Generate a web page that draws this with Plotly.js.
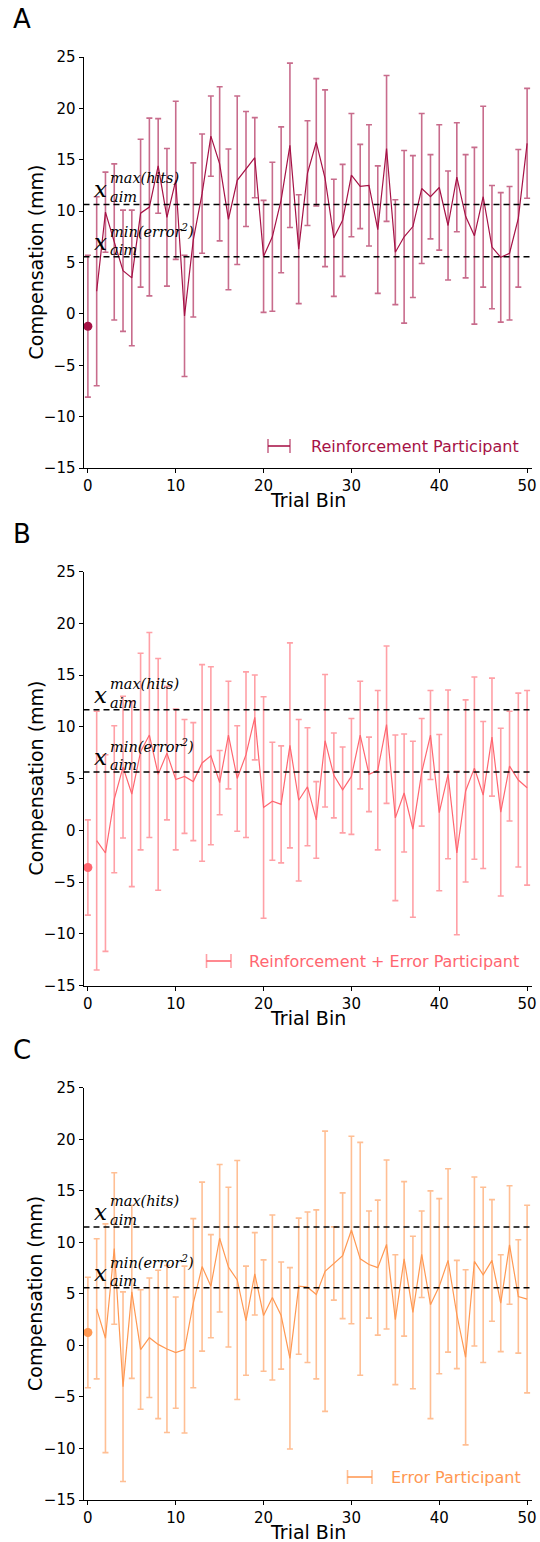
<!DOCTYPE html>
<html>
<head>
<meta charset="utf-8">
<script src="https://cdn.plot.ly/plotly-3.0.1.min.js"></script>
<style>html,body{margin:0;padding:0;background:#fff;}#chart{width:540px;height:1542px;}</style>
</head>
<body>
<div id="chart"></div>
<script>
// ---------- DATA ----------
const trialBins = Array.from({length: 50}, (_, i) => i + 1); // bins 1..50 (line)
const baselineBin = [0];

// Panel A: Reinforcement Participant
const reinfBaseline = [-1.2];
const reinfBaselineErr = [6.9];
const reinfMean = [2.2, 9.9, 7.0, 4.2, 3.5, 9.8, 10.4, 14.4, 9.4, 13.0,
  -0.2, 7.2, 11.7, 17.3, 14.6, 9.2, 13.0, 14.1, 15.2, 5.6,
  7.5, 11.1, 16.4, 6.3, 13.7, 16.7, 13.2, 7.4, 9.1, 13.5,
  12.4, 12.5, 8.2, 16.1, 6.0, 7.5, 8.5, 12.2, 11.4, 12.3,
  8.6, 13.3, 9.5, 7.6, 11.4, 6.5, 5.5, 5.9, 9.3, 16.6];
const reinfErr = [9.2, 3.9, 7.6, 5.9, 6.6, 7.2, 8.65, 4.6, 6.7, 7.7,
  5.9, 7.5, 5.8, 3.9, 7.5, 6.85, 8.2, 5.6, 3.9, 5.45,
  7.25, 7.1, 8.0, 5.3, 5.1, 6.2, 8.6, 5.7, 5.45, 6.0,
  4.1, 5.9, 6.2, 7.1, 5.1, 8.4, 6.9, 7.3, 4.1, 6.1,
  5.3, 5.3, 6.0, 8.6, 8.8, 6.0, 6.3, 6.5, 6.7, 5.35];
const reinfMaxHits = 10.65;
const reinfMinErr2 = 5.55;

// Panel B: Reinforcement + Error Participant
const bothBaseline = [-3.6];
const bothBaselineErr = [4.6];
const bothMean = [-1.0, -2.2, 3.0, 6.1, 3.5, 7.6, 9.2, 5.4, 7.45, 4.9,
  5.2, 4.7, 6.5, 7.2, 4.6, 9.2, 5.0, 7.3, 10.9, 2.2,
  2.8, 2.5, 8.2, 2.9, 4.2, 1.0, 8.65, 5.3, 3.9, 5.2,
  9.2, 5.4, 5.8, 10.2, 1.2, 3.6, 0.1, 5.6, 9.2, 1.7,
  5.4, -2.2, 3.8, 6.0, 3.4, 9.0, 1.75, 6.2, 4.85, 4.1];
const bothErr = [12.5, 9.5, 7.1, 6.85, 8.95, 9.5, 9.9, 11.2, 6.45, 6.8,
  5.5, 5.7, 9.5, 8.6, 3.1, 5.2, 5.1, 8.0, 4.1, 10.7,
  5.7, 5.65, 9.9, 7.8, 5.7, 3.7, 6.4, 4.1, 4.15, 5.6,
  5.2, 3.6, 7.7, 7.6, 8.0, 5.7, 8.5, 5.2, 4.3, 7.55,
  8.15, 7.9, 8.8, 8.8, 7.1, 5.7, 8.1, 5.3, 8.4, 9.4];
const bothMaxHits = 11.65;
const bothMinErr2 = 5.62;

// Panel C: Error Participant
const errBaseline = [1.25];
const errBaselineErr = [5.36];
const errMean = [3.55, 0.7, 9.4, -4.0, 5.2, -0.4, 0.75, 0.1, -0.35, -0.7,
  -0.4, 4.1, 7.65, 5.75, 10.4, 7.6, 6.35, 2.4, 6.95, 2.9,
  4.65, 2.9, -1.25, 5.75, 5.65, 4.95, 7.2, 7.95, 8.7, 11.2,
  8.4, 7.85, 7.55, 9.8, 2.5, 8.4, 3.2, 8.85, 3.95, 5.75,
  8.25, 3.0, -1.15, 8.15, 6.85, 8.25, 4.1, 9.75, 4.75, 4.5];
const errErr = [6.8, 11.1, 7.35, 9.2, 8.4, 5.8, 5.8, 7.2, 8.1, 5.4,
  8.1, 8.2, 8.2, 5.0, 7.15, 7.75, 11.6, 5.3, 4.0, 5.4,
  8.0, 5.2, 8.8, 6.6, 7.3, 8.2, 13.6, 3.55, 6.1, 9.1,
  11.3, 5.2, 6.55, 8.2, 6.3, 7.5, 7.4, 4.2, 11.05, 8.5,
  8.9, 5.25, 8.5, 8.2, 8.5, 5.9, 4.7, 5.75, 5.5, 9.1];
const errMaxHits = 11.5;
const errMinErr2 = 5.6;

const panelLetters = ['A', 'B', 'C'];
const seriesNames = ['Reinforcement Participant', 'Reinforcement + Error Participant', 'Error Participant'];
const xTitle = 'Trial Bin';
const yTitle = 'Compensation (mm)';
const xTicks = [0, 10, 20, 30, 40, 50];
const yTicks = [-15, -10, -5, 0, 5, 10, 15, 20, 25];

// ---------- STYLE ----------
const W = 540, H = 1542;
const colors = ['rgb(166,18,70)', 'rgb(255,102,112)', 'rgb(255,152,82)'];
const barColors = ['rgba(166,18,70,0.62)', 'rgba(255,102,112,0.62)', 'rgba(255,152,82,0.62)'];
const panelPx = [[57, 468], [571.5, 985.5], [1087.8, 1500]];
const xPx = [83.5, 531.5];
const legendPx = [
  {c1: 268, c2: 290, y: 446, tx: 309},
  {c1: 206.5, c2: 231, y: 961, tx: 246.5},
  {c1: 347.5, c2: 372, y: 1477, tx: 389}
];

const means = [reinfMean, bothMean, errMean];
const errs = [reinfErr, bothErr, errErr];
const bases = [reinfBaseline, bothBaseline, errBaseline];
const baseErrs = [reinfBaselineErr, bothBaselineErr, errBaselineErr];
const maxHits = [reinfMaxHits, bothMaxHits, errMaxHits];
const minErr2 = [reinfMinErr2, bothMinErr2, errMinErr2];

const traces = [];
const layout = {
  width: W, height: H,
  margin: {l: 0, r: 0, t: 0, b: 0},
  paper_bgcolor: '#fff', plot_bgcolor: '#fff',
  showlegend: false,
  font: {family: 'DejaVu Sans', color: '#000'},
  annotations: [], shapes: []
};

const py = p => 1 - p / H;
const px = p => p / W;

for (let i = 0; i < 3; i++) {
  const sfx = i === 0 ? '' : String(i + 1);
  const xa = 'x' + sfx, ya = 'y' + sfx;
  traces.push({
    type: 'scatter', mode: 'lines', x: trialBins, y: means[i],
    xaxis: xa, yaxis: ya, name: seriesNames[i],
    line: {color: colors[i], width: 1.2},
    error_y: {type: 'data', array: errs[i], visible: true, color: barColors[i], thickness: 1.6, width: 3}
  });
  traces.push({
    type: 'scatter', mode: 'markers', x: baselineBin, y: bases[i],
    xaxis: xa, yaxis: ya, showlegend: false,
    marker: {color: colors[i], size: 9},
    error_y: {type: 'data', array: baseErrs[i], visible: true, color: barColors[i], thickness: 1.6, width: 3}
  });
  [maxHits[i], minErr2[i]].forEach(v => {
    layout.shapes.push({type: 'line', xref: xa + ' domain', yref: ya, x0: 0, x1: 1, y0: v, y1: v,
      line: {color: '#000', width: 1.5, dash: '6px,4px'}});
  });
  const [top, bot] = panelPx[i];
  layout['xaxis' + sfx] = {
    domain: [px(xPx[0]), px(xPx[1])], anchor: ya, range: [-0.5, 50.5],
    tickvals: xTicks, ticks: 'outside', ticklen: 4, tickwidth: 1, tickcolor: '#000',
    showline: true, linecolor: '#000', linewidth: 1, showgrid: false, zeroline: false,
    tickfont: {family: 'DejaVu Sans', size: 15, color: '#000'},
    automargin: false
  };
  layout['yaxis' + sfx] = {
    domain: [py(bot), py(top)], anchor: xa, range: [-15, 25],
    tickvals: yTicks, ticks: 'outside', ticklen: 4, tickwidth: 1, tickcolor: '#000',
    showline: true, linecolor: '#000', linewidth: 1, showgrid: false, zeroline: false,
    tickfont: {family: 'DejaVu Sans', size: 15, color: '#000'},
    automargin: false
  };
  // axis titles
  layout.annotations.push({xref: xa + ' domain', yref: 'paper', x: 0.5, y: py(bot + 32),
    xanchor: 'center', yanchor: 'middle', showarrow: false, text: xTitle,
    font: {family: 'DejaVu Sans', size: 19, color: '#000'}});
  layout.annotations.push({xref: 'paper', yref: ya + ' domain', x: px(35), y: 0.5, textangle: -90,
    xanchor: 'center', yanchor: 'middle', showarrow: false, text: yTitle,
    font: {family: 'DejaVu Sans', size: 19, color: '#000'}});
  // panel letter
  layout.annotations.push({xref: 'paper', yref: 'paper', x: px(11), y: py(top - 37.5),
    xanchor: 'left', yanchor: 'middle', showarrow: false, text: panelLetters[i],
    font: {family: 'DejaVu Sans', size: 26, color: '#000'}});
  // math labels of the dashed lines
  const mathFont = (s) => ({family: 'DejaVu Serif', size: s, color: '#000'});
  [[maxHits[i], '<i>max(hits)</i>'], [minErr2[i], '<i>min(error<sup>2</sup>)</i>']].forEach(([v, sup]) => {
    layout.annotations.push({xref: xa, yref: ya, x: -0.5, y: v, xanchor: 'left', yanchor: 'middle',
      xshift: 8, yshift: 15, showarrow: false, text: '<i>x</i>', font: mathFont(23)});
    layout.annotations.push({xref: xa, yref: ya, x: -0.5, y: v, xanchor: 'left', yanchor: 'middle',
      xshift: 24, yshift: 26, showarrow: false, text: sup, font: mathFont(14.5)});
    layout.annotations.push({xref: xa, yref: ya, x: -0.5, y: v, xanchor: 'left', yanchor: 'middle',
      xshift: 24, yshift: 7, showarrow: false, text: '<i>aim</i>', font: mathFont(14.5)});
  });
  // legend glyph + text
  const L = legendPx[i];
  layout.shapes.push({type: 'line', xref: 'paper', yref: 'paper', x0: px(L.c1), x1: px(L.c2), y0: py(L.y), y1: py(L.y),
    line: {color: barColors[i], width: 1.6}});
  layout.shapes.push({type: 'line', xref: 'paper', yref: 'paper', x0: px(L.c1), x1: px(L.c2), y0: py(L.y), y1: py(L.y),
    line: {color: colors[i], width: 1.1}});
  [L.c1, L.c2].forEach(c => layout.shapes.push({type: 'line', xref: 'paper', yref: 'paper',
    x0: px(c), x1: px(c), y0: py(L.y - 7), y1: py(L.y + 7), line: {color: barColors[i], width: 1.6}}));
  layout.annotations.push({xref: 'paper', yref: 'paper', x: px(L.tx), y: py(L.y), xanchor: 'left', yanchor: 'middle',
    showarrow: false, text: seriesNames[i], font: {family: 'DejaVu Sans', size: 16, color: colors[i]}});
}

Plotly.newPlot('chart', traces, layout, {staticPlot: true, displayModeBar: false});
</script>
</body>
</html>
